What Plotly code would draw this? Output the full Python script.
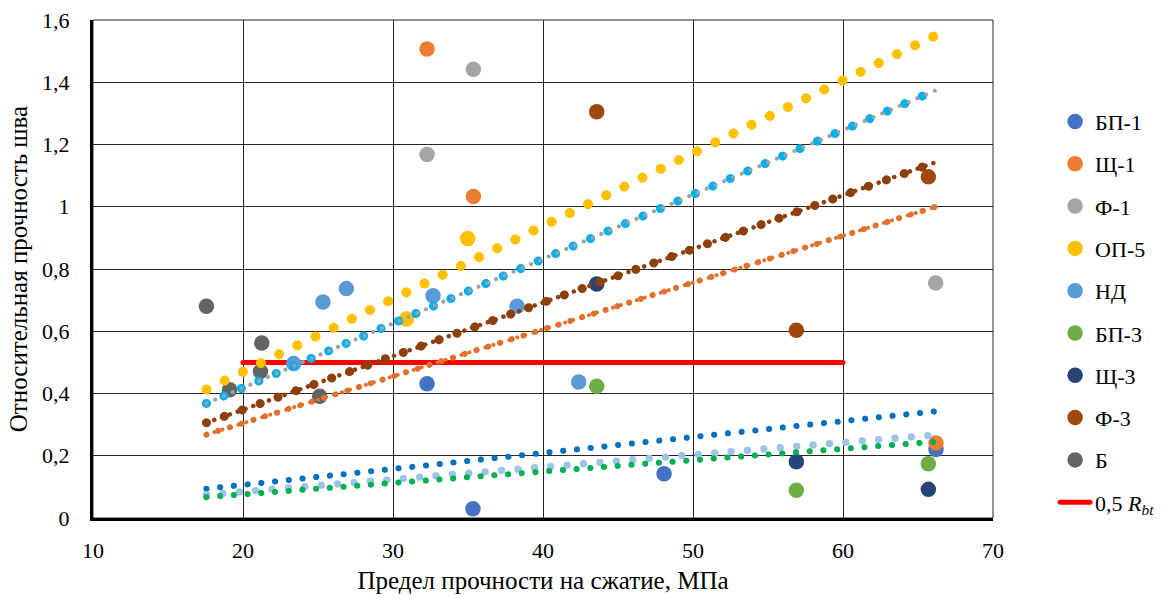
import plotly.graph_objects as go

# ---------------- data ----------------
series_names = ["БП-1", "Щ-1", "Ф-1", "ОП-5", "НД", "БП-3", "Щ-3", "Ф-3", "Б"]
series_x = {
    "БП-1": [32.27, 35.33, 48.07, 66.2],
    "Щ-1": [32.27, 35.36, 66.2],
    "Ф-1": [35.36, 32.27, 66.18],
    "ОП-5": [34.98, 30.89],
    "НД": [25.33, 26.89, 32.67, 23.38, 38.27, 42.38],
    "БП-3": [43.58, 56.89, 65.69],
    "Щ-3": [43.58, 56.89, 65.69],
    "Ф-3": [43.58, 56.89, 65.69],
    "Б": [17.56, 21.25, 21.16, 19.11, 25.11],
}
series_y = {
    "БП-1": [0.431, 0.03, 0.142, 0.22],
    "Щ-1": [1.507, 1.033, 0.241],
    "Ф-1": [1.442, 1.168, 0.755],
    "ОП-5": [0.898, 0.639],
    "НД": [0.694, 0.737, 0.714, 0.496, 0.68, 0.437],
    "БП-3": [0.423, 0.089, 0.174],
    "Щ-3": [0.752, 0.181, 0.092],
    "Ф-3": [1.305, 0.603, 1.096],
    "Б": [0.68, 0.562, 0.471, 0.412, 0.391],
}
series_colors = ["#4472C4", "#ED7D31", "#A5A5A5", "#FFC000", "#5B9BD5",
                 "#70AD47", "#264478", "#9E480E", "#636363"]

# trend lines (start / end)
trend_x = [17.56, 66.18]
trend_op5 = [0.413, 1.551]
trend_nd = [0.368, 1.374]
trend_f1 = [0.368, 1.374]
trend_f3 = [0.306, 1.143]
trend_f3b = [0.306, 1.143]
trend_sh1 = [0.268, 1.0]
trend_sh1b = [0.268, 1.0]
trend_bp1 = [0.094, 0.343]
trend_light = [0.075, 0.267]
trend_bp3 = [0.067, 0.245]

# 0,5 Rbt line
rbt_x = [20, 60]
rbt_y = [0.5, 0.5]

x_ticks = [10, 20, 30, 40, 50, 60, 70]
y_ticks = [0, 0.2, 0.4, 0.6, 0.8, 1.0, 1.2, 1.4, 1.6]

FONT = "Liberation Serif"

fig = go.Figure()

# red reference line (drawn first, listed last in legend)
fig.add_trace(go.Scatter(
    x=rbt_x, y=rbt_y, mode="lines", name="0,5 <i>R</i><sub><i>bt</i></sub>",
    line=dict(color="#FF0000", width=5), legendrank=10, legendgroup="rbt",
))

for i, nm in enumerate(series_names):
    fig.add_trace(go.Scatter(
        x=series_x[nm], y=series_y[nm], mode="markers", name=nm,
        marker=dict(color=series_colors[i], size=15.5, line=dict(width=0)),
        legendrank=i + 1, legendgroup=nm,
    ))

def trend(yv, color, width, period):
    fig.add_trace(go.Scatter(
        x=trend_x, y=yv, mode="lines", showlegend=False, hoverinfo="skip",
        line=dict(color=color, width=width, dash=f"0.1px,{period}px"),
    ))

trend(trend_bp1, "#0070C0", 6, 13.7)
trend(trend_light, "#9DC3E6", 7.3, 16.35)
trend(trend_bp3, "#00B050", 6, 13.65)
trend(trend_sh1, "#E2712E", 6, 12.2)
trend(trend_sh1b, "#E2712E", 4, 8.25)
trend(trend_f3, "#8E3F0C", 9, 18.9)
trend(trend_f3b, "#8E3F0C", 4.5, 8.2)
trend(trend_nd, "#00B0F0", 9, 18.9)
trend(trend_f1, "#A0A0A0", 4, 9.45)
trend(trend_op5, "#FFC000", 10, 20.1)

fig.update_layout(
    width=1169, height=599,
    margin=dict(l=93, r=176, t=20, b=81, autoexpand=False),
    paper_bgcolor="white", plot_bgcolor="white",
    separators=", ",
    font=dict(family=FONT, size=22, color="black"),
    showlegend=True,
    legend=dict(x=1.069, y=0.838, xanchor="left", yanchor="top",
                font=dict(family=FONT, size=22, color="black"),
                tracegroupgap=10.7, bgcolor="rgba(0,0,0,0)"),
    shapes=[dict(type="rect", xref="paper", yref="paper", x0=0, x1=1, y0=0, y1=1,
                 line=dict(color="#262626", width=1), layer="below")],
)
fig.update_xaxes(
    range=[10, 70], tickvals=x_ticks, showgrid=True, gridcolor="#262626", gridwidth=1,
    showline=True, linecolor="black", linewidth=3, zeroline=False,
    ticks="", ticklabelstandoff=11, automargin=False,
    tickfont=dict(family=FONT, size=22, color="black"),
    title=dict(text="Предел прочности на сжатие, МПа", standoff=10,
               font=dict(family=FONT, size=25, color="black")),
)
fig.update_yaxes(
    range=[0, 1.6], tickvals=y_ticks, showgrid=True, gridcolor="#262626", gridwidth=1,
    showline=True, linecolor="black", linewidth=3, zeroline=False,
    ticks="", ticklabelstandoff=16, automargin=False,
    tickfont=dict(family=FONT, size=22, color="black"),
    title=dict(text="Относительная прочность шва", standoff=8,
               font=dict(family=FONT, size=25, color="black")),
)

post_js = """
document.body.style.margin='0';
document.body.style.overflow='hidden';
var s=document.createElement('style');
s.textContent='.js-line{stroke-linecap:round !important;}';
document.head.appendChild(s);
"""

fig.write_html("out.html", post_script=post_js, config={"displayModeBar": False})
